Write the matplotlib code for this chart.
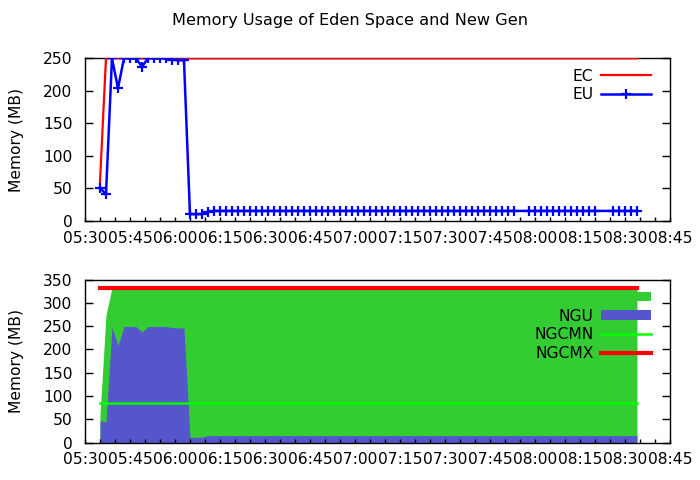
"""Eden space / new gen memory usage (jstat samples), two stacked panels."""

import matplotlib
matplotlib.use("Agg")
import matplotlib.pyplot as plt  # noqa: E402
import matplotlib.dates as mdates  # noqa: E402
from matplotlib.patches import Patch  # noqa: E402
from matplotlib.lines import Line2D  # noqa: E402
import pandas as pd  # noqa: E402

# sample times (one jstat line every ~2 min)
times = [
    "05:35", "05:37", "05:39", "05:41", "05:43", "05:45", "05:47", "05:49", "05:51",
    "05:53", "05:55", "05:57", "05:59",
    "06:01", "06:03", "06:05", "06:07", "06:09", "06:11", "06:13", "06:15", "06:17",
    "06:19", "06:21", "06:23", "06:25", "06:27", "06:29", "06:31", "06:33", "06:35",
    "06:37", "06:39", "06:41", "06:43", "06:45", "06:47", "06:49", "06:51", "06:53",
    "06:55", "06:57", "06:59",
    "07:01", "07:03", "07:05", "07:07", "07:09", "07:11", "07:13", "07:15", "07:17",
    "07:19", "07:21", "07:23", "07:25", "07:27", "07:29", "07:31", "07:33", "07:35",
    "07:37", "07:39", "07:41", "07:43", "07:45", "07:47", "07:49", "07:51", "07:53",
    "07:58", "08:00", "08:02", "08:04", "08:06", "08:08", "08:10", "08:12", "08:14",
    "08:16", "08:18", "08:20",
    "08:26", "08:28", "08:30", "08:32", "08:34",
]

# eden capacity / usage (MB)
ec = [60, 250, 250, 250, 250, 250, 250, 250, 250, 250, 250, 250, 250, 250, 250,
      250, 250, 250, 250, 250, 250, 250, 250, 250, 250, 250, 250, 250, 250, 250,
      250, 250, 250, 250, 250, 250, 250, 250, 250, 250, 250, 250, 250, 250, 250,
      250, 250, 250, 250, 250, 250, 250, 250, 250, 250, 250, 250, 250, 250, 250,
      250, 250, 250, 250, 250, 250, 250, 250, 250, 250, 250, 250, 250, 250, 250,
      250, 250, 250, 250, 250, 250, 250, 250, 250, 250, 250, 250]
eu = [51, 41, 250, 204, 250, 250, 250, 237, 250, 250, 250, 250, 248, 247, 247,
      10.5, 10.5, 10.5, 14, 15.5, 15.5, 15.5, 15.5, 15.5, 15.5, 15.5, 15.5, 15.5, 15.5, 15.5,
      15.5, 15.5, 15.5, 15.5, 15.5, 15.5, 15.5, 15.5, 15.5, 15.5, 15.5, 15.5, 15.5, 15.5, 15.5,
      15.5, 15.5, 15.5, 15.5, 15.5, 15.5, 15.5, 15.5, 15.5, 15.5, 15.5, 15.5, 15.5, 15.5, 15.5,
      15.5, 15.5, 15.5, 15.5, 15.5, 15.5, 15.5, 15.5, 15.5, 15.5, 15.5, 15.5, 15.5, 15.5, 15.5,
      15.5, 15.5, 15.5, 15.5, 15.5, 15.5, 15.5, 15.5, 15.5, 15.5, 15.5, 15.5]

# new gen capacity / usage / min / max (MB)
ngc = [60, 273, 332.8, 332.8, 332.8, 332.8, 332.8, 332.8, 332.8, 332.8, 332.8, 332.8,
       332.8, 332.8, 332.8, 332.8, 332.8, 332.8, 332.8, 332.8, 332.8, 332.8, 332.8, 332.8,
       332.8, 332.8, 332.8, 332.8, 332.8, 332.8, 332.8, 332.8, 332.8, 332.8, 332.8, 332.8,
       332.8, 332.8, 332.8, 332.8, 332.8, 332.8, 332.8, 332.8, 332.8, 332.8, 332.8, 332.8,
       332.8, 332.8, 332.8, 332.8, 332.8, 332.8, 332.8, 332.8, 332.8, 332.8, 332.8, 332.8,
       332.8, 332.8, 332.8, 332.8, 332.8, 332.8, 332.8, 332.8, 332.8, 332.8, 332.8, 332.8,
       332.8, 332.8, 332.8, 332.8, 332.8, 332.8, 332.8, 332.8, 332.8, 332.8, 332.8, 332.8,
       332.8, 332.8, 332.8]
ngu = [47, 44, 248, 208, 249, 249, 249, 237, 249, 249, 249, 249, 247, 246, 246,
       11.5, 11.5, 11.5, 15, 15, 15, 15, 15, 15, 15, 15, 15, 15, 15, 15,
       15, 15, 15, 15, 15, 15, 15, 15, 15, 15, 15, 15, 15, 15, 15,
       15, 15, 15, 15, 15, 15, 15, 15, 15, 15, 15, 15, 15, 15, 15,
       15, 15, 15, 15, 15, 15, 15, 15, 15, 15, 15, 15, 15, 15, 15,
       15, 15, 15, 15, 15, 15, 15, 15, 15, 15, 15, 15]
ngcmn = 85.3
ngcmx = 332.8

t = pd.to_datetime(["2024-01-01 " + s for s in times])
xlo, xhi = pd.Timestamp("2024-01-01 05:30"), pd.Timestamp("2024-01-01 08:45")

FS = 11.2
plt.rcParams["font.family"] = "DejaVu Sans"
plt.rcParams["font.size"] = FS

fig = plt.figure(figsize=(7, 4.8), dpi=100)
ax1 = fig.add_axes([0.1214, 0.5396, 0.8357, 0.3389])
ax2 = fig.add_axes([0.1214, 0.0779, 0.8357, 0.3398])

ax1.plot(t, ec, color="#ff0000", lw=1.6, label="EC")
ax1.plot(t, eu, color="#0000ff", lw=1.8, marker="+", ms=7, mew=1.6, label="EU")
ax1.set_ylim(0, 250)
ax1.set_yticks(range(0, 251, 50))

ax2.fill_between(t, 0, ngc, color="#33cc33", lw=0)
ax2.fill_between(t, 0, ngu, color="#5555cc", lw=0)
ax2.plot([t[0], t[-1]], [ngcmn, ngcmn], color="#00ff00", lw=1.8)
ax2.plot([t[0], t[-1]], [ngcmx, ngcmx], color="#ff0000", lw=3)
ax2.set_ylim(0, 350)
ax2.set_yticks(range(0, 351, 50))

for ax in (ax1, ax2):
    ax.set_xlim(xlo, xhi)
    ax.xaxis.set_major_locator(mdates.MinuteLocator(byminute=[0, 15, 30, 45]))
    ax.xaxis.set_minor_locator(mdates.MinuteLocator(byminute=range(0, 60, 5)))
    ax.xaxis.set_major_formatter(mdates.DateFormatter("%H:%M"))
    ax.tick_params(axis="x", which="both", direction="in", length=3, width=1,
                   pad=7, labelsize=FS)
    ax.tick_params(axis="y", direction="in", length=6, width=1, right=True,
                   pad=9, labelsize=FS)
    for sp in ax.spines.values():
        sp.set_linewidth(1)
        sp.set_zorder(1)
    ax.set_ylabel("Memory (MB)", fontsize=FS)
    ax.yaxis.set_label_coords(-0.105, 0.5)

leg_kw = dict(loc="upper right", bbox_to_anchor=(0.9675, 0.937), frameon=False,
              markerfirst=False, handlelength=3.2, handletextpad=0.5,
              labelspacing=0.24, borderaxespad=0, borderpad=0, fontsize=FS)
ax1.legend(**leg_kw)

handles = [Patch(color="#33cc33", lw=0), Patch(color="#5555cc", lw=0),
           Line2D([], [], color="#00ff00", lw=1.8),
           Line2D([], [], color="#ff0000", lw=3)]
ax2.legend(handles, ["", "NGU", "NGCMN", "NGCMX"], handleheight=0.55, **leg_kw)

fig.text(0.5, 1 - 20 / 480, "Memory Usage of Eden Space and New Gen",
         ha="center", va="center", fontsize=11.6)

fig.savefig("out.png", dpi=100)
